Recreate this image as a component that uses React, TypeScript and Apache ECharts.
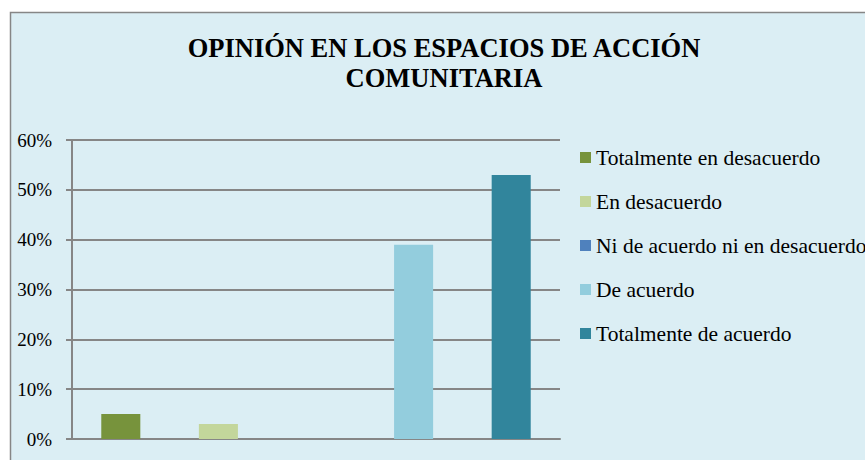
import React, { useEffect, useRef } from "react";
import * as echarts from "echarts";

const titleLines = ["OPINIÓN EN LOS ESPACIOS DE ACCIÓN", "COMUNITARIA"];
const categories = [
  "Totalmente en desacuerdo",
  "En desacuerdo",
  "Ni de acuerdo ni en desacuerdo",
  "De acuerdo",
  "Totalmente de acuerdo",
];
const values = [5, 3, 0, 39, 53];
const colors = ["#77933C", "#C3D69B", "#4F81BD", "#93CDDD", "#31859C"];
const yTicks = [0, 10, 20, 30, 40, 50, 60];

const FONT = "Liberation Serif";

export default function App() {
  const ref = useRef<HTMLDivElement>(null);
  useEffect(() => {
    if (!ref.current) return;
    const chart = echarts.init(ref.current, null, { renderer: "svg" });
    const series = categories.map((name, i) => ({
      name,
      type: "bar",
      stack: "all",
      barWidth: "40%",
      itemStyle: { color: colors[i] },
      data: categories.map((_, j) => (j === i ? values[i] : "-")),
    }));
    chart.setOption({
      animation: false,
      backgroundColor: "#ffffff",
      graphic: [
        {
          type: "rect",
          z: -10,
          shape: { x: 10.5, y: 12.5, width: 900, height: 500 },
          style: { fill: "#DBEEF4", stroke: "#868686", lineWidth: 1.5 },
        },
      ],
      title: {
        text: titleLines.join("\n"),
        left: 444,
        top: 33,
        textAlign: "center",
        padding: 0,
        textStyle: {
          fontFamily: FONT,
          fontWeight: "bold",
          fontSize: 26.5,
          lineHeight: 30,
          color: "#000",
          align: "center",
        },
      },
      legend: {
        orient: "vertical",
        left: 580,
        top: 146.5,
        itemWidth: 11,
        itemHeight: 11,
        itemGap: 22,
        icon: "rect",
        padding: 0,
        data: categories,
        textStyle: {
          fontFamily: FONT,
          fontSize: 21.5,
          lineHeight: 22,
          color: "#000",
        },
      },
      grid: { left: 72, right: 305, top: 140, bottom: 21, containLabel: false },
      xAxis: {
        type: "category",
        data: categories,
        axisLabel: { show: false },
        axisTick: { show: false },
        axisLine: { show: true, lineStyle: { color: "#868686", width: 2 } },
      },
      yAxis: {
        type: "value",
        min: yTicks[0],
        max: yTicks[yTicks.length - 1],
        interval: 10,
        axisLine: { show: true, lineStyle: { color: "#868686", width: 2 } },
        axisTick: { show: true, length: 6, lineStyle: { color: "#868686", width: 2 } },
        splitLine: { show: true, lineStyle: { color: "#868686", width: 2 } },
        axisLabel: {
          formatter: "{value}%",
          fontFamily: FONT,
          fontSize: 19,
          color: "#000",
          margin: 20,
        },
      },
      series,
    });
    return () => chart.dispose();
  }, []);
  return (
    <div
      ref={ref}
      style={{ position: "absolute", left: 0, top: 0, width: 865, height: 460 }}
    />
  );
}
